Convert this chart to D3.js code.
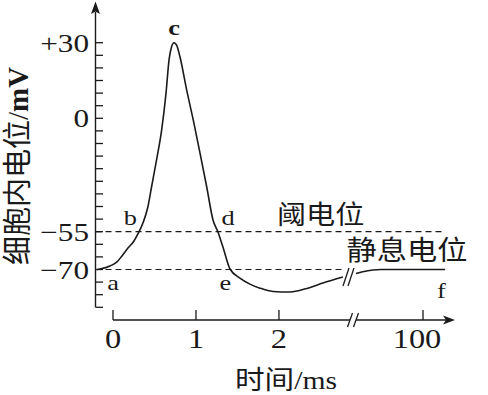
<!DOCTYPE html>
<html>
<head>
<meta charset="utf-8">
<script src="https://cdn.jsdelivr.net/npm/d3@7"></script>
<style>
  body { margin: 0; background: #fff; }
</style>
</head>
<body>
<svg></svg>
<script>
// membrane potential before the axis break (ms, mV)
const times1 = [-0.19, -0.157, -0.036, 0.048, 0.108, 0.18, 0.253, 0.30, 0.361, 0.42,
    0.465, 0.525, 0.586, 0.639, 0.675, 0.705, 0.735, 0.771, 0.807, 0.888,
    0.967, 1.048, 1.129, 1.205, 1.265, 1.325, 1.41, 1.53, 1.65, 1.77,
    1.928, 2.133, 2.337, 2.53, 2.77];
const volts1 = [-70, -69.8, -68.6, -67.0, -64.6, -61.5, -58.7, -55.9, -50.8, -43.0,
    -33.2, -20.2, -5.7, 10.0, 23.1, 28.3, 30.0, 28.7, 24.4, 11.2,
    -0.8, -16.8, -33.2, -49.3, -55.1, -61.1, -69.8, -73.4, -75.8, -77.4,
    -78.7, -78.9, -77.5, -75.4, -73.0];

// after the break
const times2 = [97.95, 98.2, 98.5, 98.75, 100.66];
const volts2 = [-71.6, -70.9, -70.2, -70, -70];

const xTicks = [0, 1, 2, 100];
const yTicks = [30, 0, -55, -70];
const yTickLabels = ["+30", "0", "\u221255", "\u221270"];

const pointNames = ["a", "b", "c", "d", "e", "f"];
const pointTimes = [0, 0.21, 0.735, 1.386, 1.355, 100.55];
const pointVolts = [-70, -55, 30, -55, -70, -70];

const refVolts = [-55, -70];
const refNames = ["阈电位", "静息电位"];

const width = 488, height = 395;
const svg = d3.select("svg").attr("width", width).attr("height", height);

const serif = "'Liberation Serif', 'Noto Sans CJK SC', serif";
const ink = "#1a1a1a";

// y axis is a schematic: evenly spaced ticks, uneven mV per tick
const tickY = d3.scaleLinear().domain([0, 21]).range([42.7, 307.3]);
const y = d3.scaleLinear()
    .domain([30, 0, -55, -70, -85])
    .range([0, 6, 15, 18, 21].map(tickY));

// x axis with a break between 2.85 and 98 ms
const x = d3.scaleLinear()
    .domain([0, 2.85, 98, 100])
    .range([113, 349.5, 356, 423]);

const axisX = 95.5, axisY = 320;

function label(g, px, py, s, size, anchor, sx) {
    return g.append("text")
        .attr("transform", `translate(${px},${py}) scale(${sx},1)`)
        .attr("text-anchor", anchor)
        .style("font-family", serif)
        .style("font-size", size + "px")
        .style("fill", ink)
        .text(s);
}

const g = svg.append("g");

// reference lines
g.append("line")
    .attr("x1", axisX).attr("x2", x(100.66))
    .attr("y1", y(refVolts[0])).attr("y2", y(refVolts[0]))
    .attr("stroke", ink).attr("stroke-width", 1.2)
    .attr("stroke-dasharray", "6,4");
g.append("line")
    .attr("x1", axisX).attr("x2", x(2.8))
    .attr("y1", y(refVolts[1])).attr("y2", y(refVolts[1]))
    .attr("stroke", ink).attr("stroke-width", 1.2)
    .attr("stroke-dasharray", "6,4");

// curve
const line = d3.line()
    .x(d => x(d[0]))
    .y(d => y(d[1]))
    .curve(d3.curveMonotoneX);

[[times1, volts1], [times2, volts2]].forEach(([ts, vs]) => {
    g.append("path")
        .attr("d", line(ts.map((t, i) => [t, vs[i]])))
        .attr("fill", "none")
        .attr("stroke", ink)
        .attr("stroke-width", 1.6);
});

// break marks on the curve
[346, 351].forEach(bx => {
    g.append("line")
        .attr("x1", bx - 3).attr("y1", 286)
        .attr("x2", bx + 3).attr("y2", 268)
        .attr("stroke", ink).attr("stroke-width", 1.3);
});

// y axis
g.append("line")
    .attr("x1", axisX).attr("x2", axisX)
    .attr("y1", tickY(21)).attr("y2", 12)
    .attr("stroke", ink).attr("stroke-width", 1.4);
g.append("path")
    .attr("d", `M${axisX},1.5 L${axisX - 4.5},14 L${axisX},11.5 L${axisX + 4.5},14 Z`)
    .attr("fill", ink);

g.selectAll(".ytick")
    .data(d3.range(0, 22))
    .join("line")
    .attr("x1", axisX).attr("x2", axisX + 7.5)
    .attr("y1", d => tickY(d)).attr("y2", d => tickY(d))
    .attr("stroke", ink).attr("stroke-width", 1.3);

yTicks.forEach((v, i) => {
    label(g, 89, y(v) + 9, yTickLabels[i], 26, "end", 1.2);
});

// x axis, drawn in two pieces round the break
g.append("line")
    .attr("x1", x(0)).attr("x2", 350)
    .attr("y1", axisY).attr("y2", axisY)
    .attr("stroke", ink).attr("stroke-width", 1.4);
g.append("line")
    .attr("x1", 356).attr("x2", 447)
    .attr("y1", axisY).attr("y2", axisY)
    .attr("stroke", ink).attr("stroke-width", 1.4);
g.append("path")
    .attr("d", `M455,${axisY} L443,${axisY - 4.5} L446,${axisY} L443,${axisY + 4.5} Z`)
    .attr("fill", ink);
[350, 356].forEach(bx => {
    g.append("line")
        .attr("x1", bx - 2.5).attr("y1", axisY + 7)
        .attr("x2", bx + 2.5).attr("y2", axisY - 7)
        .attr("stroke", ink).attr("stroke-width", 1.3);
});

xTicks.forEach(t => {
    g.append("line")
        .attr("x1", x(t)).attr("x2", x(t))
        .attr("y1", axisY).attr("y2", axisY - 10)
        .attr("stroke", ink).attr("stroke-width", 1.3);
    label(g, x(t) - (t === 100 ? 6 : 0), 348, String(t), 27, "middle", 1.2);
});

// axis titles
label(g, x(2) + 7, 389, "时间/ms", 26, "middle", 1.14);

const yTitle = g.append("text")
    .attr("transform", "translate(28,166) rotate(-90)")
    .attr("text-anchor", "middle")
    .style("font-family", serif)
    .style("font-size", "29px")
    .style("fill", ink);
yTitle.append("tspan").text("细胞内电位/");
yTitle.append("tspan").style("font-weight", "bold").text("mV");

// point letters
const letterDy = { a: 20, b: -7, c: -8, d: -7, e: 20, f: 28 };
pointNames.forEach((n, i) => {
    label(g, x(pointTimes[i]), y(pointVolts[i]) + letterDy[n], n, 22, "middle", 1.2)
        .style("font-weight", n === "c" ? "bold" : "normal");
});

// reference line names
label(g, x(2) - 2, y(refVolts[0]) - 8, refNames[0], 26, "start", 1.12)
    .style("font-family", "'Noto Sans CJK SC', sans-serif");
label(g, x(2.85) - 3, y(refVolts[1]) - 9.5, refNames[1], 27, "start", 1.12)
    .style("font-family", "'Noto Sans CJK SC', sans-serif");
</script>
</body>
</html>
